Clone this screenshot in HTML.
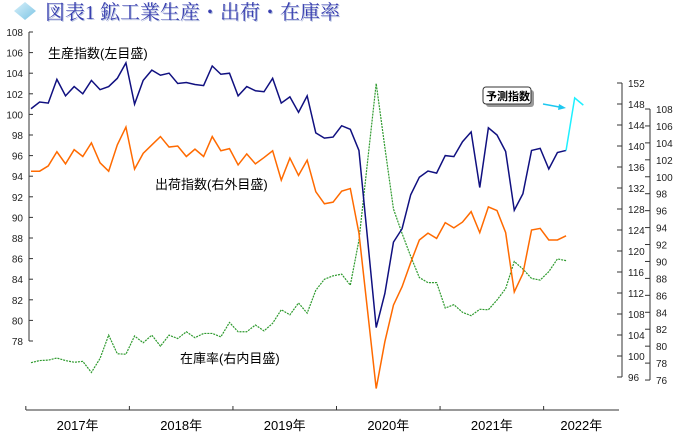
<!DOCTYPE html>
<html><head><meta charset="utf-8"><style>
body{margin:0;background:#fff;width:688px;height:443px;overflow:hidden;}
svg text{font-family:"Liberation Sans","Noto Sans CJK JP",sans-serif;}
</style></head><body>
<svg id="chart" width="688" height="443" viewBox="0 0 688 443" xmlns="http://www.w3.org/2000/svg">
<defs>
<linearGradient id="dg" x1="0" y1="0" x2="1" y2="1"><stop offset="0" stop-color="#d8f0fa"/><stop offset="1" stop-color="#7cc4e4"/></linearGradient>
</defs>
<g>
<polygon points="25,2 36,11 25,20 14,11" fill="url(#dg)"/>
<text x="46" y="20" font-size="20" fill="#b8c4e0" style="font-family:'Liberation Serif','Noto Serif CJK SC',serif">図表1 鉱工業生産・出荷・在庫率</text>
<text x="45" y="19" font-size="20" fill="#3a40b0" style="font-family:'Liberation Serif','Noto Serif CJK SC',serif">図表1 鉱工業生産・出荷・在庫率</text>
</g>
<g id="axes"></g>
<g id="series"></g>
<text x="48" y="58" font-size="13" fill="#000">生産指数(左目盛)</text>
<text x="155" y="189" font-size="13" fill="#000">出荷指数(右外目盛)</text>
<text x="180" y="363" font-size="13" fill="#000">在庫率(右内目盛)</text>
<g>
<rect x="486" y="90" width="48" height="17" rx="3" fill="#999"/>
<rect x="483" y="87" width="48" height="17" rx="3" fill="#fff" stroke="#333" stroke-width="1"/>
<text x="486" y="100" font-size="11" font-weight="bold" fill="#000">予測指数</text>
<line x1="543" y1="104" x2="562" y2="107.5" stroke="#1ec8f0" stroke-width="1.5"/>
<polygon points="566,108 559,104 558,110" fill="#1ec8f0"/>
</g>
</svg>
<script>
const years=["2017年","2018年","2019年","2020年","2021年","2022年"];
const leftTicks=[78,80,82,84,86,88,90,92,94,96,98,100,102,104,106,108];
const outerTicks=[96,100,104,108,112,116,120,124,128,132,136,140,144,148,152];
const innerTicks=[76,78,80,82,84,86,88,90,92,94,96,98,100,102,104,106,108];
const production=[100.55,101.2,101.1,103.4,101.8,102.7,102.0,103.3,102.4,102.7,103.5,105.0,101.0,103.3,104.3,103.8,104.0,103.0,103.1,102.9,102.8,104.7,103.9,104.0,101.8,102.7,102.3,102.2,103.5,101.1,101.7,100.2,101.8,98.2,97.7,97.8,98.9,98.55,96.5,87.9,79.3,82.6,87.6,88.9,92.2,93.9,94.5,94.3,96.0,95.9,97.35,98.3,92.9,98.7,98.0,96.4,90.7,92.3,96.5,96.7,94.7,96.3,96.5];
const forecast=[96.5,101.6,100.9];
const shipments=[135.2,135.2,136.2,138.9,136.6,139.3,138.0,140.6,136.8,135.2,140.2,143.6,135.6,138.6,140.2,141.8,139.8,140.0,138.0,139.4,138.0,141.8,139.1,139.5,136.4,138.5,136.6,137.8,139.1,133.5,137.7,134.4,137.3,131.3,129.0,129.3,131.4,131.9,123.4,108.6,93.8,102.7,109.7,113.2,117.8,122.1,123.4,122.4,125.4,124.4,125.5,127.5,123.5,128.4,127.7,123.5,112.2,115.7,124.0,124.3,122.1,122.1,122.9];
const inventory=[78.05,78.3,78.35,78.6,78.3,78.1,78.2,76.9,78.55,81.3,79.1,79.05,81.2,80.4,81.3,80.0,81.3,80.9,81.7,81.0,81.5,81.5,81.1,82.8,81.7,81.7,82.5,81.8,82.7,84.3,83.7,85.1,83.9,86.6,87.9,88.3,88.5,87.2,92.5,101.8,111.0,103.5,96.2,93.3,90.6,88.1,87.5,87.5,84.5,84.9,84.0,83.6,84.35,84.3,85.45,86.8,90.0,89.1,88.0,87.8,88.8,90.3,90.1];

const NS="http://www.w3.org/2000/svg";
const xOf=i=>31+i*8.63;
const yL=v=>32+(108-v)*10.3;
const yO=v=>83+(152-v)*5.25;
const yI=v=>109+(108-v)*8.47;
function mk(tag,attrs,parent){const e=document.createElementNS(NS,tag);for(const k in attrs)e.setAttribute(k,attrs[k]);parent.appendChild(e);return e;}
const axes=document.getElementById('axes'),series=document.getElementById('series');

let la=mk('g',{},axes);


mk('line',{x1:29,y1:yL(108),x2:29,y2:yL(78),stroke:'#333'},la);
leftTicks.forEach(v=>{mk('line',{x1:29,y1:yL(v),x2:33,y2:yL(v),stroke:'#333'},la);
const t=mk('text',{x:23,y:yL(v)+4,'font-size':10,'text-anchor':'end',fill:'#222'},la);


t.textContent=v;});
let oa=mk('g',{},axes);


mk('line',{x1:622,y1:yO(152),x2:622,y2:yO(96),stroke:'#333'},oa);
outerTicks.forEach(v=>{mk('line',{x1:617,y1:yO(v),x2:622,y2:yO(v),stroke:'#333'},oa);
const t=mk('text',{x:628,y:yO(v)+4,'font-size':10,fill:'#222'},oa);


t.textContent=v;});
let ia=mk('g',{},axes);


mk('line',{x1:650,y1:yI(108),x2:650,y2:yI(76),stroke:'#333'},ia);
innerTicks.forEach(v=>{mk('line',{x1:645,y1:yI(v),x2:650,y2:yI(v),stroke:'#333'},ia);
const t=mk('text',{x:656,y:yI(v)+4,'font-size':10,fill:'#222'},ia);


t.textContent=v;});
let xa=mk('g',{},axes);


const xEnd=619;
mk('line',{x1:26,y1:410,x2:xEnd,y2:410,stroke:'#333'},xa);
years.forEach((y,k)=>{const tx=xOf(12*k-0.6);const nx=Math.min(xOf(12*(k+1)-0.6),xEnd);
mk('line',{x1:tx,y1:406,x2:tx,y2:410,stroke:'#333'},xa);
const t=mk('text',{x:(tx+nx)/2,y:430,'font-size':13,'text-anchor':'middle',fill:'#000'},xa);


t.textContent=y;});

function line(arr,yf,off,attrs,name){const p=mk('polyline',Object.assign({points:arr.map((v,i)=>xOf(i+off)+','+yf(v)).join(' '),fill:'none'},attrs),series);

}
line(inventory,yI,0,{stroke:'#2e9a2e','stroke-width':1.2,'stroke-dasharray':'2,1'},'inventory-line');
line(shipments,yO,0,{stroke:'#ff6a00','stroke-width':1.5},'shipment-line');
line(production,yL,0,{stroke:'#101080','stroke-width':1.5},'production-line');
line(forecast,yL,production.length-1,{stroke:'#1ef0ff','stroke-width':1.5},'forecast-line');
</script>
</body></html>
